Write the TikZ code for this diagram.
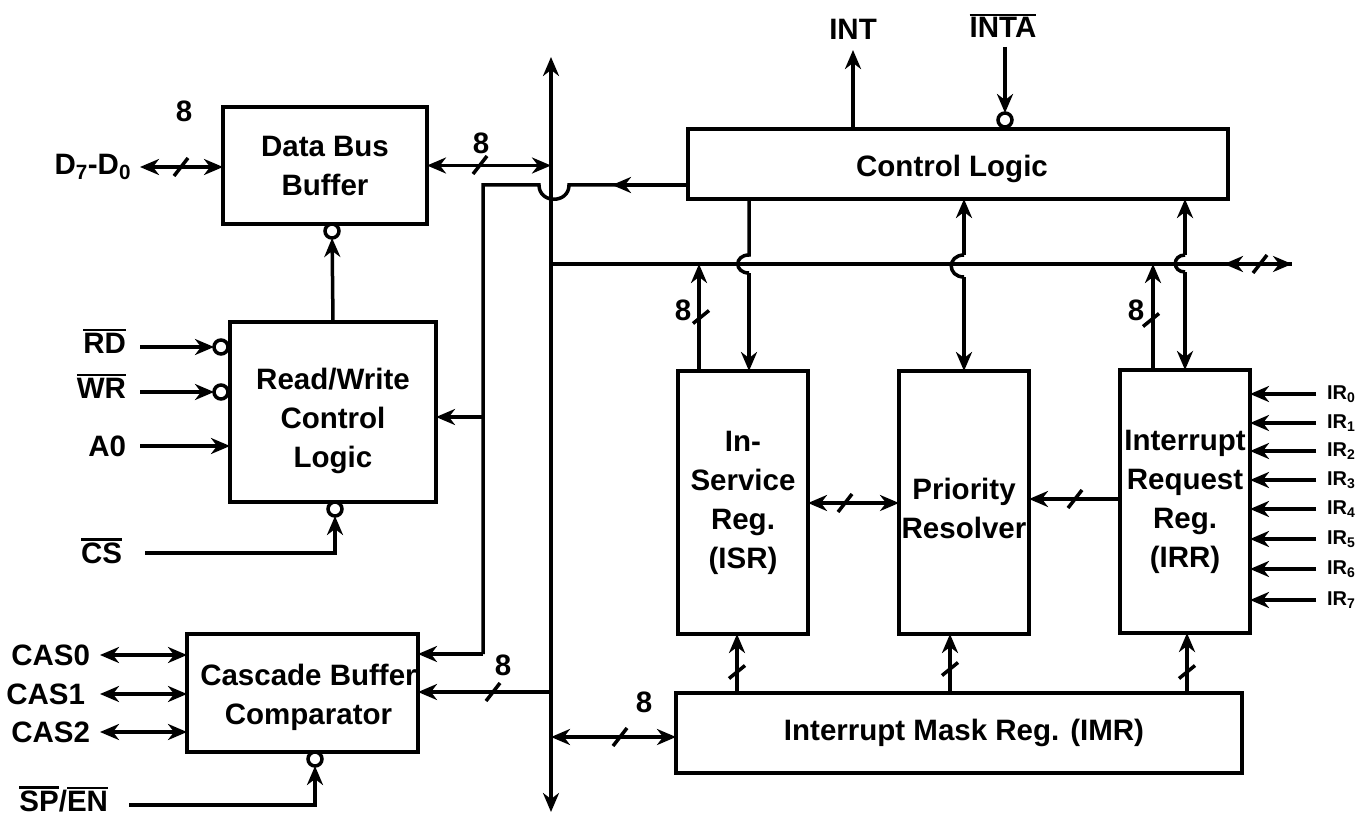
\documentclass[tikz,border=0pt]{standalone}
\usepackage{fontspec}
\setmainfont{Liberation Sans}
\usetikzlibrary{arrows.meta,positioning}
\newcommand{\ovl}[1]{\leavevmode\vbox{\hrule height 2.6pt \kern 1.6pt\hbox{#1}}}
\begin{document}
\begin{tikzpicture}[
x=1pt,y=-1pt,
every node/.style={font=\fontsize{29.5}{39}\selectfont\bfseries,inner sep=0pt,outer sep=0pt},
box/.style={draw,line width=4pt,align=center},
wire/.style={line width=3.5pt},
arr/.style={wire,-{Stealth[length=19pt,width=16pt,inset=6pt]}},
dbl/.style={wire,{Stealth[length=19pt,width=16pt,inset=6pt]}-{Stealth[length=19pt,width=16pt,inset=6pt]}},
bub/.style={draw,circle,fill=white,line width=3.5pt,minimum size=14pt},
irlbl/.style={font=\fontsize{20}{24}\selectfont\bfseries}
]
\useasboundingbox (0,0) rectangle (1367,813);
% blocks
\node[box,minimum width=204pt,minimum height=117pt] (dbb) at (325,165.5) {Data Bus\\Buffer};
\node[box,minimum width=206pt,minimum height=180pt,below=98pt of dbb.south,xshift=8pt] (rw) {\rule{0pt}{40pt}Read/Write\\Control\\Logic};
\node[box,minimum width=231pt,minimum height=118pt,below=132pt of rw.south,xshift=-30.5pt] (casc) {\rule{0pt}{31pt}\hspace*{12pt}Cascade Buffer\\\hspace*{12pt}Comparator};
\node[box,minimum width=540pt,minimum height=70pt] (ctrl) at (958,164) {\rule{0pt}{32pt}Control Logic\hspace*{12pt}};
\node[box,minimum width=130pt,minimum height=263pt,below=172pt of ctrl.south,xshift=6pt] (prio) {\rule{0pt}{34pt}Priority\\Resolver};
\node[box,minimum width=130pt,minimum height=263pt,left=91pt of prio] (isr) {In-\\Service\\Reg.\\(ISR)};
\node[box,minimum width=130pt,minimum height=263pt,right=91pt of prio,yshift=1pt] (irr) {Interrupt\\Request\\Reg.\\(IRR)};
\node[box,minimum width=566pt,minimum height=80pt,below=59pt of prio.south,xshift=-5pt] (imr) {\hspace*{10pt}Interrupt Mask Reg. (IMR)};
% free ends
\coordinate (bustop) at (551,57);
\coordinate (busbot) at (551,812);
\coordinate (hbus) at (551,264);
\coordinate (hbusend) at (1292,264);
\coordinate (dout) at (140,167);
\coordinate (rdin) at (140,347);
\coordinate (wrin) at (140,392);
\coordinate (aoin) at (140,446);
\coordinate (csin) at (145,553);
\coordinate (spin) at (129,805);
\coordinate (intout) at (853,50);
\coordinate (intain) at (1005,47);
% bubbles
\node[bub] (dbbn) at (332,231) {};
\node[bub] (rdn) at (221,347) {};
\node[bub] (wrn) at (221,392) {};
\node[bub] (csn) at (335,509) {};
\node[bub] (spn) at (315,759) {};
\node[bub] (intan) at (1005,120) {};
% labels
\node[left=9pt of dout] (dlbl) {D\textsubscript{7}-D\textsubscript{0}};
\node[left=14pt of rdin,yshift=6pt] (rdlbl) {\ovl{RD}};
\node[left=14pt of wrin,yshift=6pt] (wrlbl) {\ovl{WR}};
\node[left=14pt of aoin] (aolbl) {A0};
\node[left=23pt of csin,yshift=2pt] (cslbl) {\ovl{CS}};
\node[left=21pt of spin,yshift=6pt] (splbl) {\ovl{SP}/\ovl{EN}};
\node[above=10pt of intout] (intlbl) {INT};
\node[above=9pt of intain,xshift=-2pt] (intalbl) {\ovl{INTA}};
\node (n1) at (184,111) {8};
\node (n2) at (481,143) {8};
\node (n3) at (503,665) {8};
\node (n4) at (644,702) {8};
\node (n5) at (683,310) {8};
\node (n6) at (1136,310) {8};
% bus
\draw[dbl] (bustop) -- (busbot);
\draw[wire] (hbus) -- (hbusend);
\draw[dbl] (1224,264) -- (hbusend);
% left side
\draw[dbl] (dout) -- (dout -| dbb.west);
\draw[dbl] (dbb.east) -- (dbb.east -| bustop);
\draw[arr] (rw.north) -- (dbbn);
\draw[arr] (rdin) -- (rdn);
\draw[arr] (wrin) -- (wrn);
\draw[arr] (aoin) -- (aoin -| rw.west);
\draw[arr] (csin) -| (csn);
\draw[arr] (spin) -| (spn);
\foreach \i/\y/\d in {0/655/10,1/694/15,2/732/10}{
\coordinate (cas\i) at (100,\y);
\node[left=\d pt of cas\i] (caslbl\i) {CAS\i};
\draw[dbl] (cas\i) -- (cas\i -| casc.west);
}
% control logic wire with hop over the bus
\coordinate (ctrlw) at (ctrl.west |- 0,185);
\coordinate (hopr) at (569,185);
\coordinate (hopl) at (539,185);
\draw[arr] (ctrlw) -- (612,185);
\draw[wire] (ctrlw) -- (hopr) .. controls (569,204) and (539,204) .. (hopl) -- (483,185) -- (483,654);
\draw[arr] (483,654) -- (casc.east |- 0,654);
\draw[arr] (483,417) -- (rw.east |- 0,417);
\draw[arr] (hbus |- 0,692) -- (casc.east |- 0,692);
\draw[dbl] (hbus |- 0,737) -- (imr.west |- 0,737);
% top
\draw[arr] (intout |- ctrl.north) -- (intout);
\draw[arr] (intain) -- (intan);
% verticals with hops over the inner bus
\draw[arr] (699,371) -- (699,264);
\draw[arr] (1153,370) -- (1153,264);
\draw[wire] (749,199) -- (749,255) .. controls (734,255) and (734,273) .. (749,273);
\draw[arr] (749,273) -- (749,371);
\draw[wire] (964,255) .. controls (947,255) and (947,277) .. (964,277);
\draw[arr] (964,255) -- (964,199);
\draw[arr] (964,277) -- (964,371);
\draw[wire] (1185,255) .. controls (1172,255) and (1172,272) .. (1185,272);
\draw[arr] (1185,255) -- (1185,199);
\draw[arr] (1185,272) -- (1185,370);
% register links
\draw[dbl] (isr.east |- 0,503) -- (prio.west |- 0,503);
\draw[arr] (irr.west |- 0,499) -- (prio.east |- 0,499);
\draw[arr] (737,693) -- (737,634);
\draw[arr] (950,693) -- (950,634);
\draw[arr] (1187,693) -- (1187,633);
% IR inputs
\foreach \i/\y in {0/394,1/423,2/451,3/480,4/509,5/539,6/569,7/600}{
\coordinate (ir\i) at (1316,\y);
\node[irlbl,right=11pt of ir\i] (irlbl\i) {IR\textsubscript{\i}};
\draw[arr] (ir\i) -- (ir\i -| irr.east);
}
% width marks
\foreach \x/\y in {181/167,480/165,1260/264,493/692,620/737,845/503,1075/499}
\draw[wire] (\x,\y) +(-7,9) -- +(7,-9);
\foreach \x/\y in {701/317,1151/320,737/672,950/669,1187/672}
\draw[wire] (\x,\y) +(-8,6.5) -- +(8,-6.5);
\end{tikzpicture}
\end{document}
